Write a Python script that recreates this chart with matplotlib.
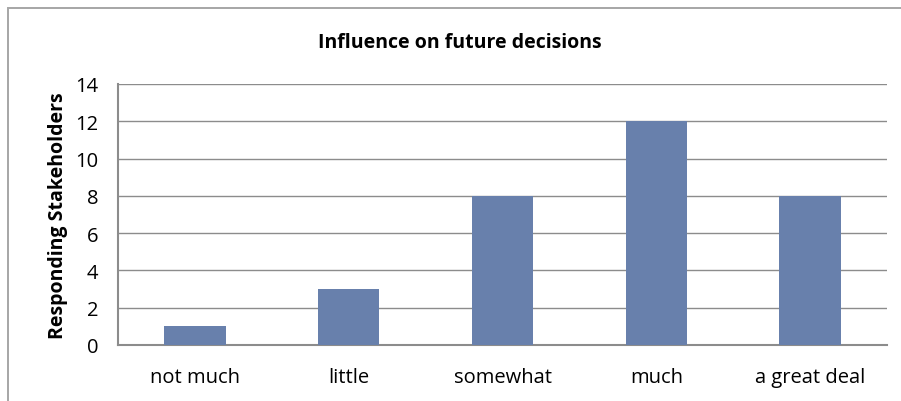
import matplotlib
matplotlib.use("Agg")
import matplotlib.pyplot as plt
from matplotlib.patches import Rectangle

# chart data
categories = ["not much", "little", "somewhat", "much", "a great deal"]
responses = [1, 3, 8, 12, 8]
yticks = [0, 2, 4, 6, 8, 10, 12, 14]

plt.rcParams['font.family'] = ['Open Sans', 'DejaVu Sans']

fig = plt.figure(figsize=(9.01, 4.02), dpi=100)
ax = fig.add_axes([118/901, 1-346/402, (887-118)/901, (346-85)/402])

# outer chart border (runs off the right/bottom edge like the original)
fig.patches.append(Rectangle((8/901, -0.2), 1.2, 1.2 - 9/402, transform=fig.transFigure,
                             fill=False, edgecolor='#A6A6A6', linewidth=1.4, clip_on=False))

x = range(len(categories))
ax.bar(x, responses, width=0.4, color='#6880AC', zorder=3)

ax.set_xlim(-0.5, len(categories) - 0.5)
ax.set_ylim(0, 14)
ax.set_yticks(yticks)
ax.set_xticks(list(x))
ax.set_xticklabels(categories)
ax.yaxis.grid(True, color='#8C8C8C', linewidth=1.0, zorder=0)
ax.set_axisbelow(True)

for s in ['top', 'right']:
    ax.spines[s].set_visible(False)
for s in ['left', 'bottom']:
    ax.spines[s].set_color('#8C8C8C')
    ax.spines[s].set_linewidth(1.5)

ax.tick_params(axis='both', length=0, labelsize=14.5, colors='black')
ax.tick_params(axis='y', pad=14)
ax.tick_params(axis='x', pad=16)

ax.set_ylabel('Responding Stakeholders', fontsize=14, fontweight='bold', labelpad=5)
fig.text(460/901, 1-43/402, 'Influence on future decisions', ha='center', va='center',
         fontsize=14, fontweight='bold')

fig.savefig('out.png', dpi=100)
